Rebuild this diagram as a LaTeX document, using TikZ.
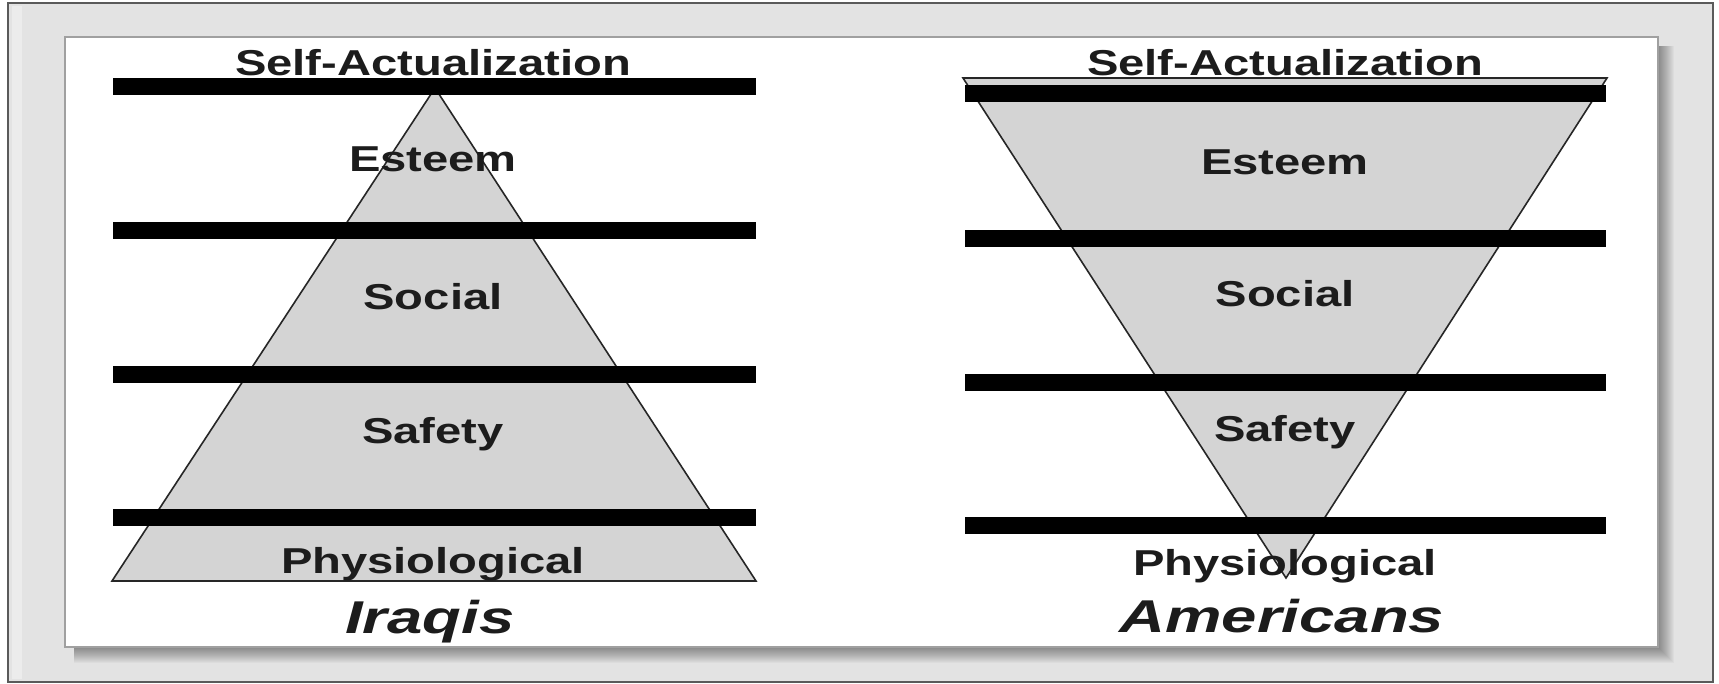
\documentclass[tikz,border=0pt]{standalone}
\usepackage{fontspec}
\setmainfont{Liberation Sans}
\definecolor{framegray}{HTML}{E3E3E3}
\definecolor{framedark}{HTML}{5A5A5A}
\definecolor{trigray}{HTML}{D4D4D4}
\definecolor{txt}{HTML}{1C1C1C}
\definecolor{panelline}{HTML}{A0A0A0}
\begin{document}
\begin{tikzpicture}[x=1pt,y=-1pt,
  bar/.style={fill=black,draw=none},
  tri/.style={fill=trigray,draw=black!85,line width=1.6pt,line join=miter},
  lbl/.style={font=\fontsize{36}{40}\selectfont\bfseries,xscale=1.31,anchor=base,text=txt,inner sep=0pt},
  ttl/.style={font=\fontsize{46}{50}\selectfont\bfseries\itshape,xscale=1.38,anchor=base,text=txt,inner sep=0pt}]
\useasboundingbox (0,0) rectangle (1719,684);
\fill[white] (0,0) rectangle (1719,684);
% outer frame
\fill[framegray] (8,3) rectangle (1713,682);
\fill[white,opacity=0.35] (12,6) rectangle (22,679);
\draw[framedark,line width=2.5pt] (8,3) rectangle (1713,682);
% shadow of the inner panel
\foreach \i in {1,...,16}
  \fill[black,opacity=0.028] (74,46) rectangle (1658+\i,647+\i);
% inner panel
\fill[white] (65,37) rectangle (1658,647);
\draw[panelline,line width=1.2pt] (65,37) rectangle (1658,647);
% left pyramid
\draw[tri] (435,88) -- (756,581) -- (112,581) -- cycle;
\fill[bar] (113,78.5) rectangle (756,95.5);
\fill[bar] (113,222.5) rectangle (756,239.5);
\fill[bar] (113,366.5) rectangle (756,383.5);
\fill[bar] (113,508.5) rectangle (756,525.5);
\node[lbl] (lsa) at (433,76) {Self-Actualization};
\node[lbl] (les) at (433,172) {Esteem};
\node[lbl] (lso) at (433,310) {Social};
\node[lbl] (lsf) at (433,443) {Safety};
\node[lbl] (lph) at (433,573) {Physiological};
\node[ttl] (iraq) at (430,633) {Iraqis};
% right inverted pyramid
\draw[tri] (963,78) -- (1607,78) -- (1286,578) -- cycle;
\fill[bar] (965,85) rectangle (1606,102);
\fill[bar] (965,230) rectangle (1606,247);
\fill[bar] (965,374) rectangle (1606,391);
\fill[bar] (965,516.5) rectangle (1606,533.5);
\node[lbl] (rsa) at (1285,76) {Self-Actualization};
\node[lbl] (res) at (1285,175) {Esteem};
\node[lbl] (rso) at (1285,307) {Social};
\node[lbl] (rsf) at (1285,442) {Safety};
\node[lbl] (rph) at (1285,575) {Physiological};
\node[ttl] (amer) at (1282,632) {Americans};
\end{tikzpicture}
\end{document}
